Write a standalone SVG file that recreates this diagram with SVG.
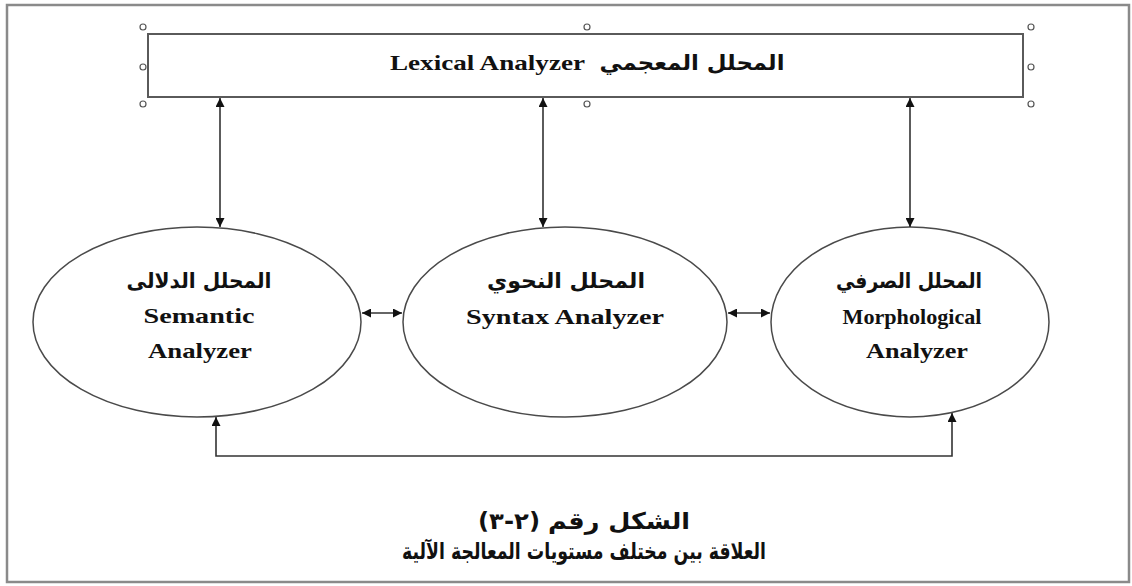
<svg xmlns="http://www.w3.org/2000/svg" width="1132" height="586" viewBox="0 0 1132 586">
  <style>
    .frame { fill: #ffffff; stroke: #8a8a8a; stroke-width: 2.5; }
    .box { fill: #ffffff; stroke: #5a5a5a; stroke-width: 2; }
    .handle { fill: #ffffff; stroke: #555555; stroke-width: 1.2; }
    .node { fill: #ffffff; stroke: #4a4a4a; stroke-width: 1.5; }
    .link { fill: none; stroke: #333333; stroke-width: 1.6; marker-start: url(#head); marker-end: url(#head); }
    .en { font-family: "Liberation Serif", "Times New Roman", serif; font-weight: bold; font-size: 21px; fill: #111111; }
    .ar { font-family: "DejaVu Sans", "Noto Sans", sans-serif; font-weight: bold; font-size: 21px; fill: #111111; }
    .cap { font-size: 23px; }
  </style>
  <defs>
    <marker id="head" viewBox="0 0 10 10" refX="10" refY="5" markerWidth="10" markerHeight="9" markerUnits="userSpaceOnUse" orient="auto-start-reverse">
      <path d="M0,0 L10,5 L0,10 Z" fill="#111111"/>
    </marker>
  </defs>

  <!-- page frame -->
  <rect class="frame" x="7" y="5" width="1122" height="577"/>

  <!-- lexical analyzer box with its selection handles -->
  <g id="lexical">
    <rect class="box" x="148" y="34" width="875" height="63"/>
    <circle class="handle" cx="143" cy="27" r="3"/>
    <circle class="handle" cx="587" cy="27" r="3"/>
    <circle class="handle" cx="1031" cy="27" r="3"/>
    <circle class="handle" cx="143" cy="67" r="3"/>
    <circle class="handle" cx="1031" cy="67" r="3"/>
    <circle class="handle" cx="143" cy="104" r="3"/>
    <circle class="handle" cx="587" cy="104" r="3"/>
    <circle class="handle" cx="1031" cy="104" r="3"/>
    <text class="en" x="585" y="70" text-anchor="end" textLength="195" lengthAdjust="spacingAndGlyphs">Lexical Analyzer</text>
    <text class="ar" x="692" y="70" text-anchor="middle" direction="rtl" textLength="185" lengthAdjust="spacingAndGlyphs">المحلل المعجمي</text>
  </g>

  <!-- semantic analyzer -->
  <g id="semantic">
    <ellipse class="node" cx="197" cy="322" rx="164" ry="95"/>
    <text class="ar" x="199" y="288" text-anchor="middle" direction="rtl" textLength="145" lengthAdjust="spacingAndGlyphs">المحلل الدلالى</text>
    <text class="en" x="199" y="323" text-anchor="middle" textLength="111" lengthAdjust="spacingAndGlyphs">Semantic</text>
    <text class="en" x="200" y="358" text-anchor="middle" textLength="104" lengthAdjust="spacingAndGlyphs">Analyzer</text>
  </g>

  <!-- syntax analyzer -->
  <g id="syntax">
    <ellipse class="node" cx="565" cy="322" rx="162" ry="95"/>
    <text class="ar" x="566" y="288" text-anchor="middle" direction="rtl" textLength="158" lengthAdjust="spacingAndGlyphs">المحلل النحوي</text>
    <text class="en" x="565" y="324" text-anchor="middle" textLength="198" lengthAdjust="spacingAndGlyphs">Syntax Analyzer</text>
  </g>

  <!-- morphological analyzer -->
  <g id="morphological">
    <ellipse class="node" cx="910" cy="322" rx="139" ry="95"/>
    <text class="ar" x="909" y="288" text-anchor="middle" direction="rtl" textLength="146" lengthAdjust="spacingAndGlyphs">المحلل الصرفي</text>
    <text class="en" x="912" y="324" text-anchor="middle" textLength="139" lengthAdjust="spacingAndGlyphs">Morphological</text>
    <text class="en" x="917" y="358" text-anchor="middle" textLength="102" lengthAdjust="spacingAndGlyphs">Analyzer</text>
  </g>

  <!-- connectors -->
  <g id="connectors">
    <line class="link" x1="220" y1="98" x2="220" y2="227"/>
    <line class="link" x1="543" y1="98" x2="543" y2="227"/>
    <line class="link" x1="910" y1="98" x2="910" y2="227"/>
    <line class="link" x1="362" y1="313" x2="402" y2="313"/>
    <line class="link" x1="728" y1="313" x2="770" y2="313"/>
    <path class="link" d="M216,417 L216,456 L952,456 L952,413"/>
  </g>

  <!-- caption: figure number is set left-to-right so the digits keep their printed order -->
  <g id="caption">
    <text class="ar cap" x="619" y="529" text-anchor="middle" direction="rtl" textLength="142" lengthAdjust="spacingAndGlyphs">الشكل رقم</text>
    <text class="ar cap" x="509" y="529" text-anchor="middle" direction="ltr" unicode-bidi="bidi-override" textLength="62" lengthAdjust="spacingAndGlyphs">(٣-٢)</text>
    <text class="ar cap" x="584" y="559" text-anchor="middle" direction="rtl" textLength="364" lengthAdjust="spacingAndGlyphs">العلاقة بين مختلف مستويات المعالجة الآلية</text>
  </g>
</svg>
